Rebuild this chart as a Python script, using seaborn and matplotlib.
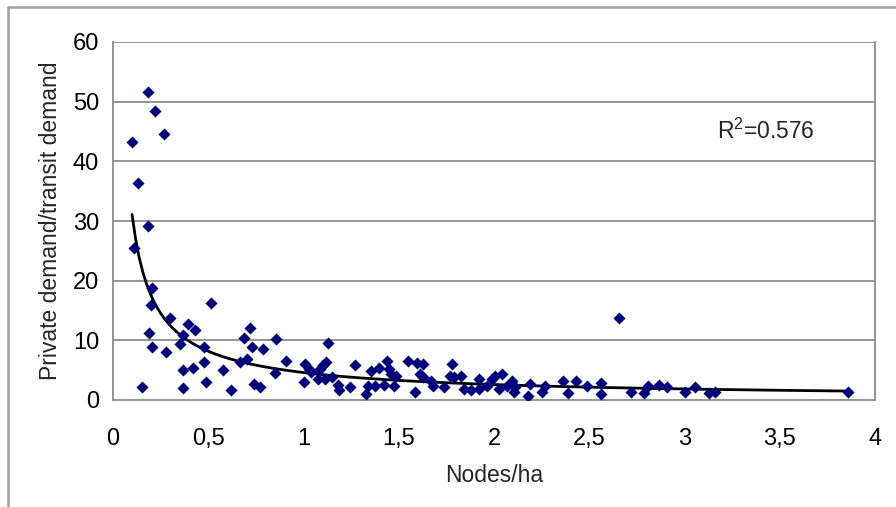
import numpy as np
import pandas as pd
import matplotlib
matplotlib.use("Agg")
import matplotlib.pyplot as plt
from matplotlib.lines import Line2D
import seaborn as sns

nodes_per_ha = [
    0.10, 0.13, 0.185, 0.22, 0.27, 0.11, 0.185, 0.206, 0.20, 0.517,
    0.30, 0.394, 0.433, 0.19, 0.37, 0.35, 0.206, 0.28, 0.48, 0.48,
    0.365, 0.42, 0.578, 0.49, 0.153, 0.365, 0.62, 0.717, 0.69, 0.73,
    0.79, 0.855, 0.705, 0.665, 0.91, 0.85, 0.74, 0.77, 1.01, 1.005,
    1.03, 1.04, 1.075, 1.084, 1.10, 1.12, 1.127, 1.115, 1.15, 1.185,
    1.245, 1.18, 1.27, 1.33, 1.337, 1.354, 1.377, 1.398, 1.424, 1.44,
    1.447, 1.46, 1.476, 1.485, 1.546, 1.586, 1.598, 1.625, 1.61, 1.625,
    1.668, 1.68, 1.74, 1.78, 1.77, 1.79, 1.825, 1.843, 1.878, 1.92,
    1.92, 1.965, 1.99, 2.005, 2.04, 2.026, 2.07, 2.096, 2.105, 2.11,
    2.18, 2.19, 2.25, 2.27, 2.36, 2.39, 2.43, 2.49, 2.56, 2.56,
    2.655, 2.72, 2.79, 2.81, 2.864, 2.91, 3.0, 3.056, 3.13, 3.16,
    3.86,
]
demand_ratio = [
    43.2, 36.4, 51.7, 48.5, 44.6, 25.5, 29.2, 18.8, 16.0, 16.3,
    13.7, 12.8, 11.7, 11.2, 10.9, 9.4, 8.8, 8.0, 8.8, 6.3,
    5.1, 5.4, 5.1, 3.1, 2.2, 1.96, 1.7, 12.0, 10.4, 8.8,
    8.5, 10.2, 6.8, 6.3, 6.5, 4.6, 2.7, 2.1, 6.0, 3.1,
    5.2, 4.7, 3.6, 5.2, 5.8, 6.4, 9.5, 3.6, 3.8, 1.7,
    2.1, 2.5, 5.8, 1.0, 2.4, 4.9, 2.4, 5.3, 2.5, 6.6,
    5.2, 4.4, 2.4, 4.1, 6.6, 1.3, 6.2, 6.0, 4.4, 3.8,
    3.2, 2.4, 2.1, 6.0, 4.1, 3.8, 4.1, 1.8, 1.6, 3.5,
    1.8, 2.4, 3.5, 4.1, 4.4, 1.8, 2.4, 3.2, 1.3, 2.1,
    0.7, 2.7, 1.3, 2.3, 3.2, 1.2, 3.2, 2.3, 2.8, 1.0,
    13.7, 1.3, 1.2, 2.4, 2.5, 2.1, 1.4, 2.1, 1.2, 1.3,
    1.3,
]
# power trendline y = coef * x ** exponent
trend_coef = 4.6
trend_exponent = -0.83
x_ticks = [0, 0.5, 1, 1.5, 2, 2.5, 3, 3.5, 4]
x_tick_labels = ["0", "0,5", "1", "1,5", "2", "2,5", "3", "3,5", "4"]
y_ticks = [0, 10, 20, 30, 40, 50, 60]
r2_label = "R$^{2}$=0.576"

df = pd.DataFrame({"x": nodes_per_ha, "y": demand_ratio})
xs = np.linspace(df["x"].min(), df["x"].max(), 200)
trend = pd.DataFrame({"x": xs, "y": trend_coef * xs ** trend_exponent})

sns.set_style("white")
plt.rcParams["font.family"] = ["Liberation Sans", "DejaVu Sans"]
plt.rcParams["mathtext.default"] = "regular"

W, H = 896, 507
fig = plt.figure(figsize=(W / 100, H / 100), dpi=100)
ax = fig.add_axes([113 / W, 1 - 400 / H, (875 - 113) / W, (400 - 42) / H])

grid_col = "#8c8c8c"
for yv in y_ticks[1:]:
    ax.axhline(yv, color=grid_col, lw=1.3, zorder=0)

sns.lineplot(data=trend, x="x", y="y", ax=ax, color="black", lw=2.0, zorder=2)
sns.scatterplot(data=df, x="x", y="y", ax=ax, marker="D", color="#00007f",
                s=38, linewidth=0, zorder=3)

ax.set_xlim(0, 4)
ax.set_ylim(0, 60)
ax.set_xticks(x_ticks)
ax.set_xticklabels(x_tick_labels)
ax.set_yticks(y_ticks)
ax.tick_params(axis="both", labelsize=17, colors="black", length=6,
               width=1.2, direction="out", color=grid_col)
ax.tick_params(axis="y", pad=4)
ax.tick_params(axis="x", pad=14)
for side in ["left", "bottom", "right"]:
    ax.spines[side].set_color(grid_col)
    ax.spines[side].set_linewidth(1.3)
ax.spines["top"].set_visible(False)

ax.set_xlabel("Nodes/ha", fontsize=16.5, labelpad=10)
ax.set_ylabel("Private demand/transit demand", fontsize=16.5, labelpad=8)

ax.text(0.793, 0.75, r2_label, transform=ax.transAxes, fontsize=16.5,
        ha="left", va="center")

# outer chart frame (left and top edges)
fig.add_artist(Line2D([8 / W, 8 / W], [0, 1 - 7 / H], color="#a0a0a0", lw=1.8))
fig.add_artist(Line2D([8 / W, 1], [1 - 7 / H, 1 - 7 / H], color="#a0a0a0", lw=1.8))

fig.savefig("out.png", dpi=100)
